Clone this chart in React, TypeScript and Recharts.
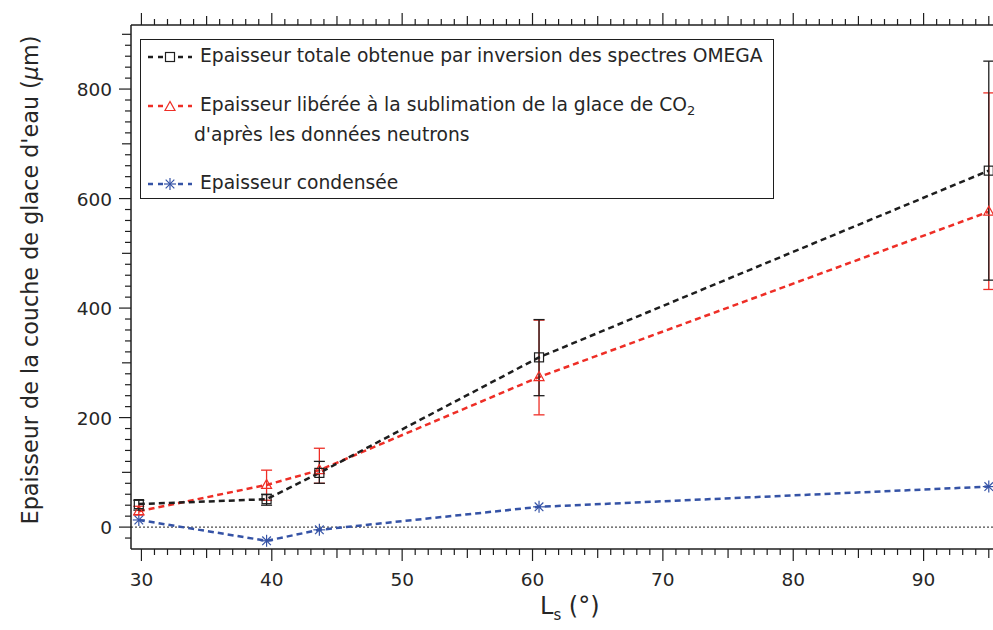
import React from 'react';
import { LineChart, Line, XAxis, YAxis, ErrorBar, ReferenceLine, Legend } from 'recharts';

// ---- data ----
const lsDegrees = [29.8, 39.6, 43.65, 60.5, 95];
const totalThickness = [42, 51, 99, 310, 651];
const totalLow = [31, 40, 80, 240, 451];
const totalHigh = [49, 60, 120, 379, 851];
const releasedThickness = [29, 77, 104, 274, 576];
const releasedLow = [22, 49, 80, 205, 434];
const releasedHigh = [38, 104, 144, 378, 793];
const condensedThickness = [13, -25, -5, 37, 74];

const xTickLabels = [30, 40, 50, 60, 70, 80, 90];
const yTickLabels = [0, 200, 400, 600, 800];

const legendTotal = 'Epaisseur totale obtenue par inversion des spectres OMEGA';
const legendReleased1 = 'Epaisseur libérée à la sublimation de la glace de CO';
const legendReleased2 = "d'après les données neutrons";
const legendCondensed = 'Epaisseur condensée';

// ---- derived tables ----
const data = lsDegrees.map((x, i) => ({
  x,
  total: totalThickness[i],
  totalErr: [totalThickness[i] - totalLow[i], totalHigh[i] - totalThickness[i]],
  released: releasedThickness[i],
  releasedErr: [releasedThickness[i] - releasedLow[i], releasedHigh[i] - releasedThickness[i]],
  condensed: condensedThickness[i],
}));

const xMinorTicks: number[] = [];
for (let v = 30; v <= 95; v += 1) xMinorTicks.push(v);
const yMinorTicks: number[] = [];
for (let v = -20; v <= 900; v += 20) yMinorTicks.push(v);

const BLACK = '#1e1e1e';
const RED = '#ee2e26';
const BLUE = '#3553a6';
const TEXT = '#262626';
const FONT = '"DejaVu Sans", Verdana, sans-serif';

// ---- markers ----
const Square = ({ cx, cy }: any) => (
  <rect x={cx - 4.5} y={cy - 4.5} width={9} height={9} fill="none" stroke={BLACK} strokeWidth={1.2} />
);
const Triangle = ({ cx, cy }: any) => (
  <polygon
    points={`${cx},${cy - 5.5} ${cx - 5},${cy + 3.5} ${cx + 5},${cy + 3.5}`}
    fill="none"
    stroke={RED}
    strokeWidth={1.2}
  />
);
const Star = ({ cx, cy }: any) => {
  const r = 6;
  const d = r * 0.72;
  return (
    <g stroke={BLUE} strokeWidth={1.2}>
      <line x1={cx} y1={cy - r} x2={cx} y2={cy + r} />
      <line x1={cx - r} y1={cy} x2={cx + r} y2={cy} />
      <line x1={cx - d} y1={cy - d} x2={cx + d} y2={cy + d} />
      <line x1={cx - d} y1={cy + d} x2={cx + d} y2={cy - d} />
    </g>
  );
};

// ---- ticks ----
const tickLen = (v: number, major: number, mid: number) =>
  v % major === 0 ? 12 : v % mid === 0 ? 9 : 6;

const BottomTick = ({ x, y, payload }: any) => {
  const v = payload.value;
  const len = tickLen(v, 10, 5);
  return (
    <g>
      <line x1={x} y1={y} x2={x} y2={y + len} stroke={BLACK} strokeWidth={1.2} />
      {xTickLabels.includes(v) && (
        <text x={x} y={y + 37} textAnchor="middle" fontFamily={FONT} fontSize={18.5} fill={TEXT}>
          {v}
        </text>
      )}
    </g>
  );
};

const TopTick = ({ x, y, payload }: any) => {
  const v = payload.value;
  const len = tickLen(v, 10, 5);
  return <line x1={x} y1={y} x2={x} y2={y - len} stroke={BLACK} strokeWidth={1.2} />;
};

const LeftTick = ({ x, y, payload }: any) => {
  const v = payload.value;
  const len = tickLen(v, 200, 100);
  return (
    <g>
      <line x1={x} y1={y} x2={x - len} y2={y} stroke={BLACK} strokeWidth={1.2} />
      {yTickLabels.includes(v) && (
        <text x={x - 19} y={y + 7} textAnchor="end" fontFamily={FONT} fontSize={18.5} fill={TEXT}>
          {v}
        </text>
      )}
    </g>
  );
};

// ---- legend ----
const LegendSample = ({ color, marker }: { color: string; marker: string }) => (
  <svg width={50} height={16} style={{ position: 'absolute', left: 4, top: -8 }}>
    <line x1={3} y1={8} x2={47} y2={8} stroke={color} strokeWidth={2.5} strokeDasharray="5 5" />
    <rect x={19} y={2} width={12} height={12} fill="white" />
    {marker === 'square' && <Square cx={25} cy={8} />}
    {marker === 'triangle' && <Triangle cx={25} cy={9} />}
    {marker === 'star' && <Star cx={25} cy={8} />}
  </svg>
);

const LegendBox = () => (
  <div
    style={{
      width: 634,
      height: 160,
      border: `1.5px solid ${BLACK}`,
      boxSizing: 'border-box',
      position: 'relative',
      background: 'white',
      fontFamily: FONT,
      fontSize: 18.7,
      color: TEXT,
    }}
  >
    <div style={{ position: 'absolute', left: 0, top: 17 }}>
      <LegendSample color={BLACK} marker="square" />
    </div>
    <div style={{ position: 'absolute', left: 59, top: 5, lineHeight: '22px', whiteSpace: 'nowrap' }}>
      {legendTotal}
    </div>
    <div style={{ position: 'absolute', left: 0, top: 66 }}>
      <LegendSample color={RED} marker="triangle" />
    </div>
    <div style={{ position: 'absolute', left: 59, top: 54, lineHeight: '22px', whiteSpace: 'nowrap' }}>
      {legendReleased1}
      <sub style={{ fontSize: 13, verticalAlign: -4 }}>2</sub>
    </div>
    <div style={{ position: 'absolute', left: 53, top: 84, lineHeight: '22px', whiteSpace: 'nowrap' }}>
      {legendReleased2}
    </div>
    <div style={{ position: 'absolute', left: 0, top: 144 }}>
      <LegendSample color={BLUE} marker="star" />
    </div>
    <div style={{ position: 'absolute', left: 59, top: 132, lineHeight: '22px', whiteSpace: 'nowrap' }}>
      {legendCondensed}
    </div>
  </div>
);

export default function App() {
  return (
    <div
      style={{
        position: 'absolute',
        left: 0,
        top: 0,
        width: 993,
        height: 630,
        overflow: 'hidden',
        background: 'white',
      }}
    >
      <LineChart width={994} height={630} data={data} margin={{ top: 0, right: 0, bottom: 0, left: 0 }}>
        <XAxis
          xAxisId="bottom"
          dataKey="x"
          type="number"
          domain={[29.2, 95.4]}
          allowDataOverflow
          ticks={xMinorTicks}
          interval={0}
          tickSize={0}
          tickMargin={0}
          tickLine={false}
          tick={<BottomTick />}
          height={81}
          axisLine={{ stroke: BLACK, strokeWidth: 1.5 }}
        />
        <XAxis
          xAxisId="top"
          orientation="top"
          dataKey="x"
          type="number"
          domain={[29.2, 95.4]}
          allowDataOverflow
          ticks={xMinorTicks}
          interval={0}
          tickSize={0}
          tickMargin={0}
          tickLine={false}
          tick={<TopTick />}
          height={25}
          axisLine={{ stroke: BLACK, strokeWidth: 1.5 }}
        />
        <YAxis
          type="number"
          domain={[-40, 917]}
          allowDataOverflow
          ticks={yMinorTicks}
          interval={0}
          tickSize={0}
          tickMargin={0}
          tickLine={false}
          tick={<LeftTick />}
          width={131}
          axisLine={{ stroke: BLACK, strokeWidth: 1.5 }}
          label={{
            content: () => (
              <text
                x={0}
                y={0}
                transform="translate(38 280) rotate(-90)"
                textAnchor="middle"
                fontFamily={FONT}
                fontSize={22.3}
                fill={TEXT}
              >
                Epaisseur de la couche de glace d'eau (<tspan fontStyle="italic">μ</tspan>m)
              </text>
            ),
          }}
        />
        <ReferenceLine xAxisId="bottom" y={0} stroke={BLACK} strokeWidth={1} strokeDasharray="2 2" />
        <Line
          xAxisId="bottom"
          dataKey="condensed"
          type="linear"
          stroke={BLUE}
          strokeWidth={2.5}
          strokeDasharray="6 4"
          dot={(p: any) => <Star key={`s${p.index}`} cx={p.cx} cy={p.cy} />}
          isAnimationActive={false}
        />
        <Line
          xAxisId="bottom"
          dataKey="released"
          type="linear"
          stroke={RED}
          strokeWidth={2.5}
          strokeDasharray="6 4"
          dot={(p: any) => <Triangle key={`t${p.index}`} cx={p.cx} cy={p.cy} />}
          isAnimationActive={false}
        >
          <ErrorBar dataKey="releasedErr" direction="y" width={5.5} stroke={RED} strokeWidth={1.3} />
        </Line>
        <Line
          xAxisId="bottom"
          dataKey="total"
          type="linear"
          stroke={BLACK}
          strokeWidth={2.5}
          strokeDasharray="6 4"
          dot={(p: any) => <Square key={`q${p.index}`} cx={p.cx} cy={p.cy} />}
          isAnimationActive={false}
        >
          <ErrorBar dataKey="totalErr" direction="y" width={5.5} stroke={BLACK} strokeWidth={1.3} />
        </Line>
        <Legend
          layout="vertical"
          align="center"
          verticalAlign="middle"
          content={<LegendBox />}
          wrapperStyle={{ left: 140, top: 39, width: 634, height: 160 }}
        />
        <text x={540} y={614} fontFamily={FONT} fontSize={24} fill={TEXT}>
          L<tspan fontSize={15} dy={6}>s</tspan>
          <tspan dy={-6}> (°)</tspan>
        </text>
      </LineChart>
    </div>
  );
}
